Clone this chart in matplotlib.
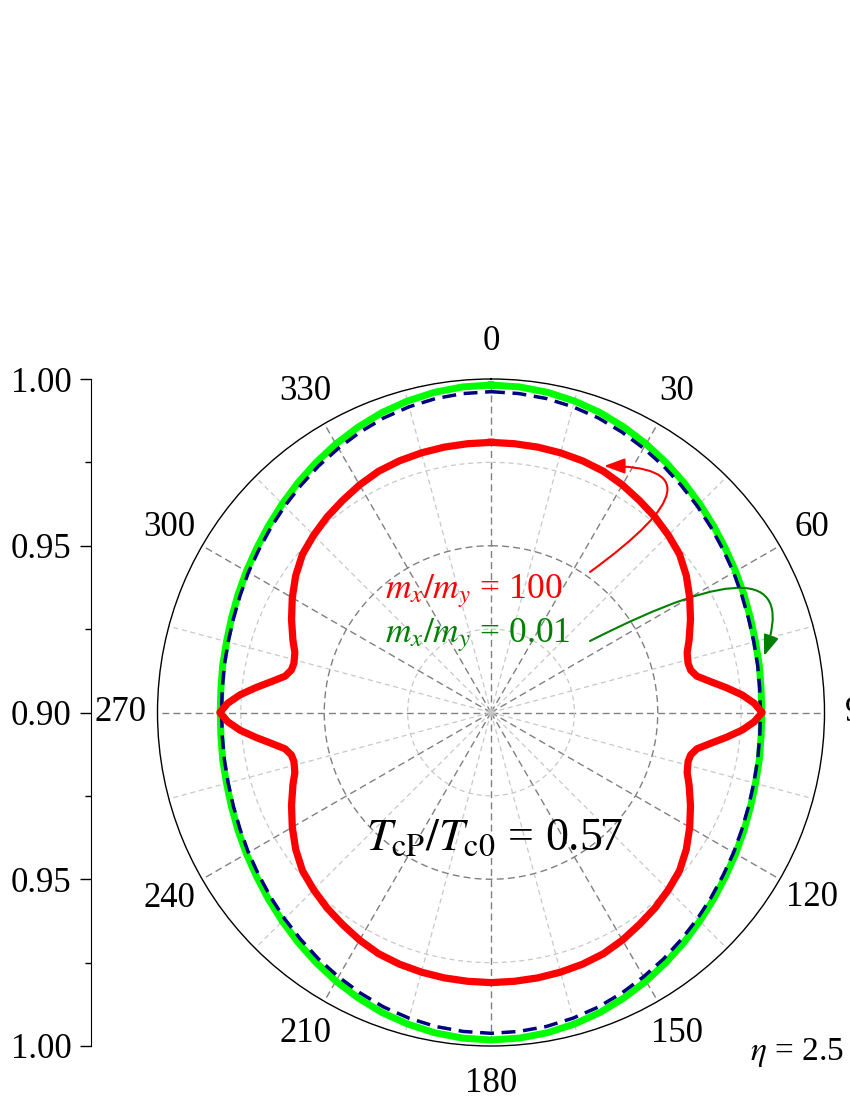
import numpy as np
import matplotlib
matplotlib.use('Agg')
import matplotlib.pyplot as plt

plt.rcParams['font.family'] = ['Liberation Serif', 'DejaVu Serif']
plt.rcParams['mathtext.fontset'] = 'stix'

# one quadrant of each curve (deg, r); the curves are symmetric about both axes
red_theta = [0, 5, 10, 15, 20, 25, 30, 35, 40, 45, 50, 55, 60, 65, 70, 73, 76, 78, 80, 82, 84, 86, 88, 90]
red_r = [0.9810, 0.9809, 0.9808, 0.9806, 0.9803, 0.9798, 0.9788, 0.9776, 0.9765, 0.9752, 0.9738, 0.9715,
         0.9688, 0.9660, 0.9632, 0.9615, 0.9609, 0.9612, 0.9627, 0.9665, 0.9710, 0.9755, 0.9790, 0.9813]

green_theta = [0, 5, 10, 15, 20, 25, 30, 35, 40, 45, 50, 55, 60, 65, 70, 75, 80, 85, 90]
green_r = [0.9982, 0.9980, 0.9975, 0.9967, 0.9957, 0.9944, 0.9930, 0.9915, 0.9900, 0.9885,
           0.9871, 0.9858, 0.9847, 0.9837, 0.9828, 0.9821, 0.9817, 0.9813, 0.9812]

navy_theta = [0, 5, 10, 15, 20, 25, 30, 35, 40, 45, 50, 55, 60, 65, 70, 75, 80, 85, 90]
navy_r = [0.9962, 0.9960, 0.9956, 0.9949, 0.9940, 0.9928, 0.9915, 0.9902, 0.9888, 0.9875,
          0.9862, 0.9850, 0.9840, 0.9830, 0.9822, 0.9816, 0.9812, 0.9809, 0.9808]

angle_labels = ['0', '30', '60', '90', '120', '150', '180', '210', '240', '270', '300', '330']
left_pos = [0.10, 0.05, 0.0, -0.05, -0.10]
left_labels = ['1.00', '0.95', '0.90', '0.95', '1.00']


def full_circle(th, r):
    th = np.asarray(th, float)
    r = np.asarray(r, float)
    t = np.concatenate([th, 180 - th[::-1][1:], 180 + th[1:], 360 - th[::-1][1:]])
    rr = np.concatenate([r, r[::-1][1:], r[1:], r[::-1][1:]])
    return np.deg2rad(t), rr


W, H = 850, 1100
fig = plt.figure(figsize=(W / 100, H / 100), dpi=100)

cx, cy, R = 491, 712.5, 333.5
box = [(cx - R) / W, (H - cy - R) / H, 2 * R / W, 2 * R / H]
ax = fig.add_axes(box, projection='polar')
ax.set_theta_zero_location('N')
ax.set_theta_direction(-1)
ax.set_rlim(0.9, 1.0)

ax.set_xticks(np.deg2rad(np.arange(0, 360, 30)))
ax.set_xticklabels(angle_labels, fontsize=25)
ax.set_xticks(np.deg2rad(np.arange(15, 360, 30)), minor=True)
ax.set_yticks([0.95])
ax.set_yticks([0.925, 0.975], minor=True)
ax.set_yticklabels([])
ax.tick_params(axis='y', which='both', length=0)
ax.tick_params(axis='x', which='major', direction='in', length=9, width=1, pad=20)
ax.tick_params(axis='x', which='minor', direction='in', length=5, width=1)
ax.grid(True, which='major', color='#808080', ls=(0, (5, 3)), lw=1)
ax.grid(True, which='minor', color='#c8c8c8', ls=(0, (4, 3)), lw=0.9)
ax.spines['polar'].set_linewidth(1)

t, r = full_circle(green_theta, green_r)
ax.plot(t, r, color='#00ff00', lw=5, zorder=3)
t, r = full_circle(navy_theta, navy_r)
ax.plot(t, r, color='#000080', lw=2.5, ls=(0, (4, 2.2)), zorder=4)
t, r = full_circle(red_theta, red_r)
ax.plot(t, r, color='#ff0000', lw=5.2, zorder=5)

# left scale
lx = 91
ax2 = fig.add_axes([lx / W, box[1], 0.0001, box[3]])
ax2.set_ylim(-0.1, 0.1)
ax2.set_xticks([])
ax2.set_yticks(left_pos)
ax2.set_yticklabels(left_labels, fontsize=25)
ax2.set_yticks([0.075, 0.025, -0.025, -0.075], minor=True)
for s in ['top', 'right', 'bottom']:
    ax2.spines[s].set_visible(False)
ax2.tick_params(axis='y', which='major', length=8, width=1, pad=6)
ax2.tick_params(axis='y', which='minor', length=4.5, width=1)


def fx(x):
    return x / W


def fy(y):
    return 1 - y / H


fig.text(fx(385), fy(598), r'$m_x/m_y$ = 100', color='#ff0000', fontsize=25.5, va='baseline')
fig.text(fx(385), fy(642), r'$m_x/m_y$ = 0.01', color='#008000', fontsize=25.5, va='baseline')
fig.text(fx(366), fy(850), r'$T_{\rm cP}/T_{\rm c0}$ = 0.57', color='black', fontsize=33, va='baseline')
fig.text(fx(750), fy(1060), r'$\eta$ = 2.5', color='black', fontsize=24, va='baseline')

ax.annotate('', xy=(604, H - 466), xycoords='figure pixels',
            xytext=(590, H - 572), textcoords='figure pixels',
            arrowprops=dict(arrowstyle='-|>,head_length=0.9,head_width=0.33', color='#ff0000', lw=1.5,
                            shrinkA=0, shrinkB=0, mutation_scale=14,
                            connectionstyle='angle3,angleA=36,angleB=0'))
ax.annotate('', xy=(764, H - 656), xycoords='figure pixels',
            xytext=(590, H - 641), textcoords='figure pixels',
            arrowprops=dict(arrowstyle='-|>,head_length=0.9,head_width=0.33', color='#008000', lw=1.5,
                            shrinkA=0, shrinkB=0, mutation_scale=14,
                            connectionstyle='angle3,angleA=27,angleB=70'))

fig.savefig('out.png', dpi=100)
